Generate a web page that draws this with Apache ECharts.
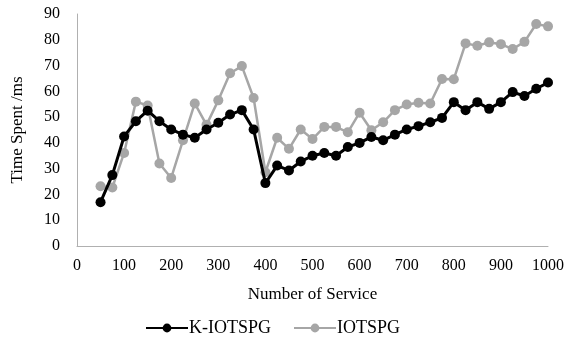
<!DOCTYPE html>
<html><head><meta charset="utf-8">
<script src="https://cdn.jsdelivr.net/npm/echarts@6/dist/echarts.min.js"></script>
<style>html,body{margin:0;padding:0;background:#fff}#c{width:570px;height:346px}</style>
</head><body><div id="c"></div>
<script>
const services = [50,75,100,125,150,175,200,225,250,275,300,325,350,375,400,425,450,475,500,525,550,575,600,625,650,675,700,725,750,775,800,825,850,875,900,925,950,975,1000];
const kIotspg = [17,27.5,42.5,48.4,52.5,48.4,45.2,43.2,42,45.2,47.8,51,52.7,45.2,24.4,31.2,29.3,32.8,35,36.1,35,38.4,40,42.3,41,43.2,45.2,46.5,48,49.7,55.8,52.7,55.8,53.2,55.8,59.7,58.2,61,63.4];
const iotspg = [23.2,22.7,36.1,56,54.5,32,26.4,41,55.3,47,56.5,67,69.8,57.4,28.6,42,37.7,45.2,41.5,46.2,46.2,44.1,51.7,44.9,48,52.7,54.9,55.6,55.3,64.8,64.7,78.6,77.7,79,78.3,76.4,79.2,86.1,85.2];
const xName = 'Number of Service';
const yName = 'Time Spent /ms';
const seriesNames = ['K-IOTSPG','IOTSPG'];

const font = 'Liberation Serif';
const chart = echarts.init(document.getElementById('c'), null, {renderer:'canvas'});
chart.setOption({
  animation:false,
  textStyle:{fontFamily:font},
  grid:{left:77,right:22,top:14,bottom:100,containLabel:false},
  legend:{
    bottom:4,left:140,itemWidth:42,itemHeight:11,itemGap:22,
    textStyle:{fontFamily:font,fontSize:18,color:'#000',padding:[0,0,0,-4]},
    data:seriesNames
  },
  xAxis:{
    type:'value',min:0,max:1000,interval:100,
    name:xName,nameLocation:'middle',nameGap:40,
    nameTextStyle:{fontFamily:font,fontSize:17,color:'#000'},
    axisLine:{lineStyle:{color:'#b0b0b0',width:1}},
    axisTick:{show:false},splitLine:{show:false},
    axisLabel:{fontFamily:font,fontSize:16,color:'#000',margin:12,formatter:v=>String(v)}
  },
  yAxis:{
    type:'value',min:0,max:90,interval:10,
    name:yName,nameLocation:'middle',nameGap:51,nameRotate:90,
    nameTextStyle:{fontFamily:font,fontSize:17,color:'#000'},
    axisLine:{show:true,lineStyle:{color:'#b0b0b0',width:1}},
    axisTick:{show:false},splitLine:{show:false},
    axisLabel:{fontFamily:font,fontSize:16,color:'#000',margin:17}
  },
  series:[
    {name:seriesNames[0],type:'line',data:services.map((s,i)=>[s,kIotspg[i]]),
     symbol:'circle',symbolSize:10,
     lineStyle:{color:'#000',width:3},itemStyle:{color:'#000'},z:3},
    {name:seriesNames[1],type:'line',data:services.map((s,i)=>[s,iotspg[i]]),
     symbol:'circle',symbolSize:10,
     lineStyle:{color:'#a6a6a6',width:2.5},itemStyle:{color:'#a6a6a6'},z:2}
  ]
});
</script></body></html>
